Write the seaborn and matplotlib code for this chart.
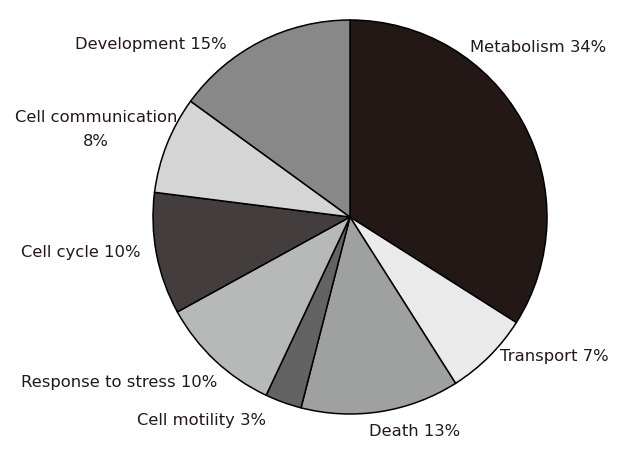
import numpy as np
import pandas as pd
import matplotlib
matplotlib.use("Agg")
import matplotlib.pyplot as plt
import seaborn as sns

sns.set_theme(style="white")
plt.rcParams['font.family'] = ['DejaVu Sans']

# data (clockwise from 12 o'clock)
categories = ["Metabolism", "Transport", "Death", "Cell motility",
              "Response to stress", "Cell cycle", "Cell communication", "Development"]
shares = [34, 7, 13, 3, 10, 10, 8, 15]
colors = ["#231815", "#e9eae9", "#9fa0a0", "#646363",
          "#b7b8b8", "#433e3d", "#d5d5d5", "#888888"]

df = pd.DataFrame({"category": categories, "share": shares, "color": colors})

# label text and where it sits (pixel coords of the reference, x, y from top, alignment)
label_pos = {
    "Metabolism": (470, 47, "left"),
    "Transport": (500, 357, "left"),
    "Death": (369, 432, "left"),
    "Cell motility": (137, 420, "left"),
    "Response to stress": (21, 382, "left"),
    "Cell cycle": (21, 253, "left"),
    "Cell communication": (96, 130, "center"),
    "Development": (75, 45, "left"),
}

W, H = 630, 455
fig = plt.figure(figsize=(W / 100, H / 100), dpi=100)
ax = fig.add_axes([0, 0, 1, 1])

ax.pie(df["share"], colors=df["color"], startangle=90, counterclock=False,
       center=(350, H - 217), radius=197,
       wedgeprops=dict(edgecolor="black", linewidth=1.1))

for _, row in df.iterrows():
    x, y, ha = label_pos[row["category"]]
    if row["category"] == "Cell communication":
        txt = f"{row['category']}\n{row['share']}%"
    else:
        txt = f"{row['category']} {row['share']}%"
    ax.text(x, H - y, txt, ha=ha, va="center", fontsize=11.8, color="#231815",
            linespacing=1.75)

ax.set_xlim(0, W)
ax.set_ylim(0, H)
ax.set_aspect("equal")
ax.axis("off")

fig.savefig("out.png", dpi=100)
